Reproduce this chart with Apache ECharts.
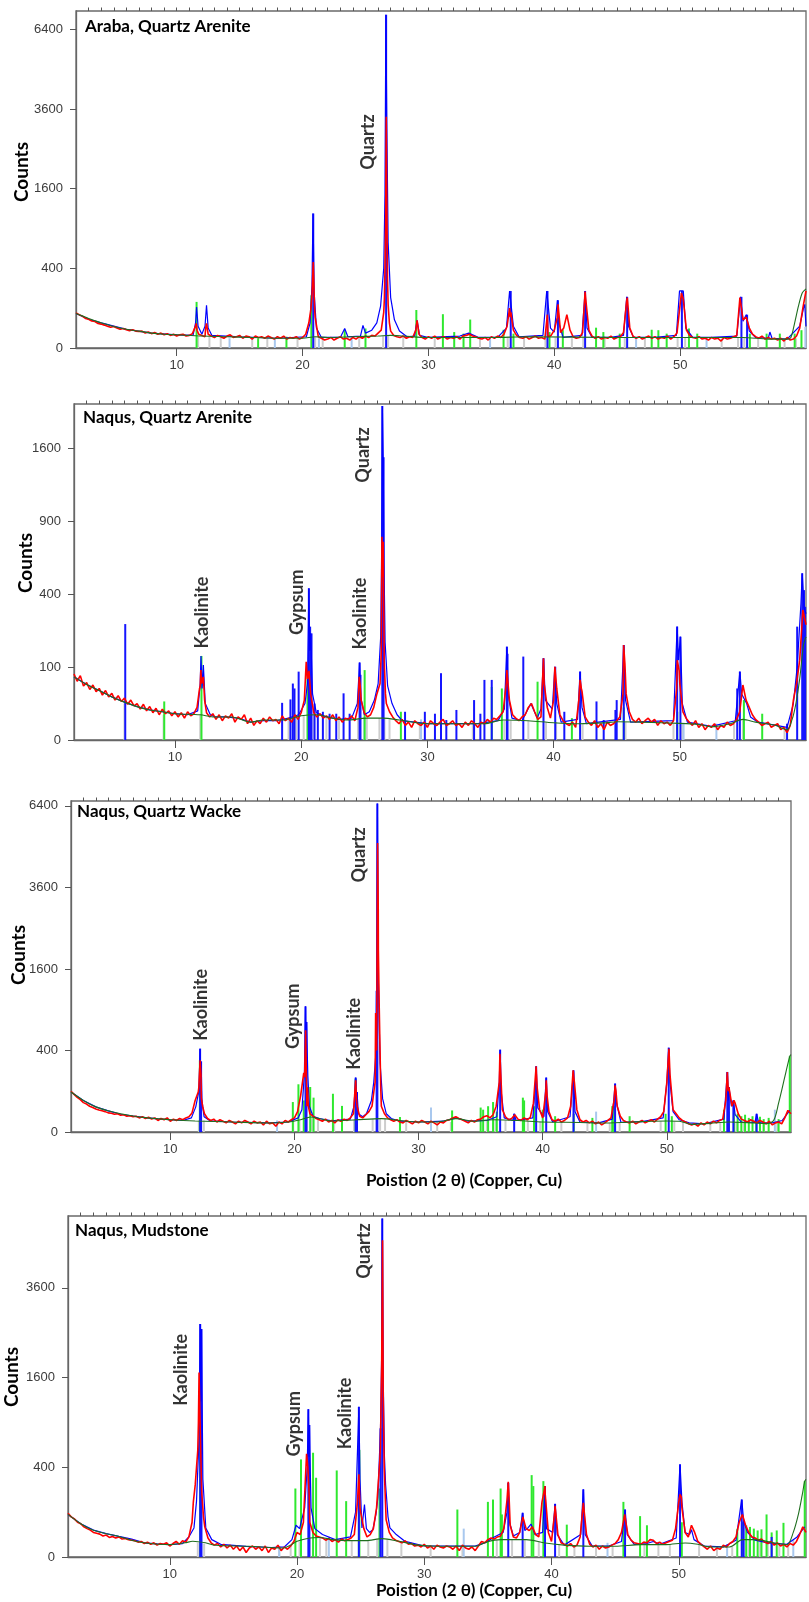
<!DOCTYPE html>
<html>
<head>
<meta charset="utf-8">
<title>XRD patterns</title>
<script src="https://cdn.jsdelivr.net/npm/echarts@6/dist/echarts.min.js"></script>
<style>
html, body { margin: 0; padding: 0; background: #fff; }
#chart { width: 809px; height: 1602px; }
</style>
</head>
<body>
<div id="chart"></div>
<script>
// observed scans are sampled every 0.25 deg from 2 deg, peak tops are extra [2theta, counts] points
var obsStart = 2, obsStep = 0.25;
var xTicks = [10, 20, 30, 40, 50];

// ---- Araba, Quartz Arenite
var obsA = [
    78, 70, 64, 55, 52, 46, 44, 38, 36, 33, 30, 27, 29, 25, 22, 24, 21, 19, 21, 18,
    17, 18, 14, 16, 13, 15, 12, 14, 11, 13, 10, 12, 9, 11, 12, 9, 10, 13, 14, 12,
    10, 8, 12, 9, 7, 10, 8, 6, 9, 11, 7, 8, 10, 6, 9, 8, 5, 9, 7, 8,
    6, 9, 7, 5, 8, 6, 9, 5, 7, 6, 8, 5, 7, 12, 40, 175, 60, 8, 6, 4,
    5, 7, 4, 6, 8, 5, 6, 4, 7, 5, 8, 6, 9, 7, 10, 9, 14, 20, 150, 300,
    18, 10, 8, 7, 9, 6, 8, 7, 20, 12, 7, 5, 8, 6, 9, 5, 7, 8, 5, 7,
    6, 8, 5, 9, 10, 12, 9, 8, 6, 5, 7, 4, 8, 6, 9, 7, 12, 30, 60, 20,
    10, 7, 6, 8, 5, 7, 9, 6, 7, 5, 8, 10, 20, 60, 15, 25, 70, 20, 8, 6,
    7, 15, 150, 20, 9, 6, 8, 5, 7, 6, 9, 5, 7, 8, 15, 140, 25, 9, 6, 8,
    5, 7, 9, 6, 8, 5, 7, 6, 9, 5, 8, 14, 120, 150, 20, 10, 7, 6, 8, 5,
    6, 4, 7, 5, 6, 3, 7, 5, 6, 8, 10, 160, 50, 60, 25, 12, 8, 6, 9, 5,
    7, 5, 6, 4, 6, 3, 7, 4, 5, 9, 25, 100, 205
];
var tipsA = [[11.5, 30], [11.55, 38], [11.62, 20], [12.3, 25], [12.37, 38], [12.45, 20],
    [20.65, 90], [20.8, 300], [20.85, 467], [20.9, 250], [20.95, 110],
    [26.45, 80], [26.55, 400], [26.6, 980], [26.65, 3370], [26.7, 1200], [26.8, 120], [26.9, 40],
    [29.1, 48], [36.45, 100], [36.55, 80], [39.45, 70], [40.3, 120], [42.45, 200], [45.8, 160],
    [50.1, 190], [54.85, 165]];
var calcA = [[2, 75], [3, 52], [4, 40], [6, 22], [8, 14], [10, 11], [11.3, 10], [11.5, 40], [11.58, 106], [11.7, 30],
    [12.0, 12], [12.25, 30], [12.37, 115], [12.5, 25], [12.8, 10], [15, 8], [18, 6], [20.3, 8], [20.6, 40],
    [20.75, 250], [20.83, 1140], [20.92, 200], [21.1, 25], [21.5, 7], [23, 7], [23.35, 24], [23.6, 8], [24.6, 9],
    [24.8, 32], [25.0, 14], [25.5, 20], [25.9, 40], [26.2, 110], [26.45, 400], [26.55, 1500], [26.62, 7000],
    [26.7, 3000], [26.8, 700], [27.0, 160], [27.3, 50], [27.7, 18], [28.3, 8], [28.9, 9], [29.1, 48], [29.3, 10],
    [30, 7], [32.5, 9], [33.2, 14], [34, 7], [35.5, 7], [36.2, 25], [36.45, 205], [36.6, 205], [36.75, 30],
    [37.2, 8], [39.1, 10], [39.4, 205], [39.52, 205], [39.7, 25], [40.0, 16], [40.25, 144], [40.4, 35], [40.7, 7],
    [42.2, 10], [42.45, 205], [42.6, 25], [43, 7], [44.5, 7], [45.5, 10], [45.76, 165], [45.9, 30], [46.3, 7],
    [48, 7], [49.7, 10], [49.95, 205], [50.25, 205], [50.45, 25], [51, 7], [52.5, 7], [54.5, 9], [54.8, 165],
    [55.0, 45], [55.25, 70], [55.5, 18], [56, 7], [57.0, 6], [57.13, 16], [57.3, 6], [58.5, 5], [59.5, 30],
    [59.8, 100], [59.9, 120], [60, 30]];
var bgA = [[2, 75], [2.5, 65], [3, 55], [3.5, 47], [4, 40], [5, 29], [6, 22], [7, 18], [8, 14], [9, 12], [10, 11],
    [12, 9], [14, 8], [16, 7], [18, 6], [20, 6], [21, 8], [22, 7], [24, 8], [26, 9], [27, 10], [28, 9], [30, 7],
    [35, 7], [38, 8], [45, 7], [50, 7], [55, 7], [57, 5], [58.5, 5], [58.8, 7], [59.1, 40], [59.4, 110],
    [59.7, 190], [60, 220]];
var greenA = [[11.58, 134], [16.47, 6], [18.72, 8], [20.7, 175], [23.35, 21], [25.0, 24], [29.04, 91], [31.15, 72],
    [32.05, 16], [32.79, 13], [33.32, 51], [35.97, 21], [36.76, 13], [39.62, 16], [40.68, 20], [43.32, 26],
    [43.9, 16], [45.2, 13], [47.74, 21], [48.27, 20], [48.93, 13], [50.7, 24], [51.36, 13], [55.54, 13],
    [56.87, 13], [57.92, 13], [59.1, 13], [59.64, 20]];
var blueA = [[20.85, 1140], [26.64, 7000], [36.54, 205], [39.46, 205], [40.29, 144], [42.45, 205], [45.79, 165],
    [50.14, 205], [54.87, 165], [55.32, 70]];
var greyA = [[11.7, 8], [12.6, 8], [13.5, 7], [16.0, 6], [17.2, 6], [19.6, 6], [21.0, 8], [21.6, 6], [24.5, 7],
    [26.4, 9], [26.8, 9], [28.0, 8], [30.5, 6], [34.1, 6], [36.3, 8], [37.6, 6], [39.3, 7], [40.1, 7], [41.4, 6],
    [42.3, 7], [44.0, 6], [45.6, 7], [47.2, 6], [49.8, 7], [50.4, 7], [53.3, 6], [54.6, 7], [55.1, 7], [56.2, 6],
    [58.3, 5], [59.2, 6]];
var paleA = [[14.2, 6], [17.8, 6], [21.3, 6], [23.9, 7], [34.9, 6], [46.5, 6], [52.1, 6], [59.95, 28]];
var namesA = [['Quartz', 25.2, 2673]];

// ---- Naqus, Quartz Arenite
var obsB = [
    82, 65, 78, 55, 62, 48, 57, 44, 50, 38, 46, 35, 41, 30, 37, 28, 33, 24, 30, 22,
    25, 18, 24, 16, 21, 14, 19, 12, 18, 13, 16, 11, 15, 10, 14, 9, 15, 11, 13, 20,
    55, 40, 14, 10, 13, 8, 12, 7, 11, 9, 13, 6, 10, 8, 12, 5, 9, 4, 7, 5,
    9, 6, 10, 7, 8, 5, 11, 7, 9, 6, 12, 8, 14, 30, 70, 40, 14, 10, 13, 9,
    11, 8, 12, 7, 10, 6, 9, 8, 11, 7, 20, 30, 14, 10, 12, 20, 40, 60, 740, 25,
    15, 10, 7, 5, 8, 4, 6, 3, 7, 5, 4, 6, 3, 7, 5, 4, 6, 8, 4, 5,
    7, 4, 5, 3, 6, 4, 7, 5, 3, 6, 5, 8, 6, 9, 8, 11, 15, 60, 30, 12,
    9, 7, 10, 12, 20, 25, 15, 8, 10, 60, 20, 9, 30, 50, 12, 7, 5, 4, 6, 3,
    30, 45, 10, 6, 4, 7, 3, 5, 2, 6, 4, 5, 7, 10, 40, 40, 15, 8, 6, 9,
    5, 7, 9, 6, 8, 4, 7, 5, 6, 4, 7, 50, 60, 15, 9, 6, 4, 7, 3, 5,
    2, 4, 3, 5, 2, 4, 3, 6, 4, 5, 8, 15, 57, 30, 20, 12, 8, 6, 4, 5,
    6, 3, 4, 5, 2, 3, 1, 4, 30, 60, 120, 318, 250
];
var tipsB = [[11.95, 50], [12.05, 92], [12.12, 60], [12.25, 75], [12.35, 30], [20.4, 115], [20.62, 90],
    [24.6, 75], [24.68, 55], [26.35, 150], [26.4, 778], [26.45, 500], [26.5, 740], [26.58, 120], [26.68, 40],
    [36.3, 92], [39.2, 126], [40.1, 101], [42.1, 68], [42.2, 50], [45.55, 170], [45.65, 110], [49.8, 120],
    [49.95, 90]];
var calcB = [[2, 75], [3, 58], [4, 46], [5, 35], [6, 27], [7, 21], [8, 17], [9, 15], [10, 13], [11, 12], [11.8, 16],
    [12.0, 60], [12.06, 133], [12.15, 50], [12.25, 106], [12.4, 25], [12.8, 12], [13.2, 10], [14, 10], [15, 9],
    [16, 6], [17, 7], [18, 7], [19, 9], [19.8, 12], [20.3, 25], [20.5, 60], [20.61, 433], [20.68, 150],
    [20.75, 214], [20.9, 40], [21.2, 14], [22, 10], [23, 8], [24, 9], [24.45, 25], [24.63, 113], [24.72, 35],
    [25, 12], [25.4, 15], [25.8, 30], [26.1, 60], [26.3, 200], [26.38, 700], [26.43, 2100], [26.5, 1500],
    [26.56, 600], [26.65, 180], [26.85, 55], [27.2, 25], [27.6, 12], [28, 7], [30, 5], [34, 5], [35.6, 7],
    [36.1, 18], [36.3, 164], [36.4, 40], [36.7, 9], [37.5, 7], [38.2, 25], [38.7, 9], [39.0, 18], [39.2, 126],
    [39.35, 30], [39.9, 18], [40.1, 101], [40.25, 25], [40.6, 6], [41.9, 8], [42.1, 88], [42.25, 20], [42.6, 5],
    [45.3, 8], [45.56, 170], [45.7, 30], [46.1, 6], [49.5, 7], [49.79, 242], [49.9, 120], [50.05, 201],
    [50.2, 25], [50.6, 6], [52.5, 3.5], [54.4, 7], [54.76, 88], [54.9, 40], [55.3, 25], [55.6, 10], [56.2, 6],
    [58.5, 3], [59.0, 25], [59.3, 100], [59.6, 350], [59.7, 523], [59.85, 330], [60, 300]];
var bgB = [[2, 75], [3, 58], [4, 46], [5, 35], [6, 27], [7, 21], [8, 17], [9, 15], [10, 13], [12, 12], [13, 10],
    [14.5, 10], [16, 6], [17, 7.5], [18.5, 7.5], [20, 11], [21.2, 12], [22.5, 9], [23.6, 7.5], [25.2, 9],
    [26.5, 9], [27.8, 7.5], [30, 5], [33, 5], [34.5, 5], [36, 7.5], [38, 7], [40, 5.6], [42, 5], [44, 5.5],
    [45, 6.3], [47, 6], [50, 5.2], [51.5, 4.5], [52.5, 3.3], [54, 5], [55, 8], [56, 6], [57.5, 4.2], [58.5, 2],
    [58.9, 8], [59.2, 25], [59.5, 70], [59.8, 170], [60, 200]];
var greenB = [[9.15, 28], [12.1, 133], [20.5, 92], [25.03, 92], [27.9, 15], [35.1, 53], [35.9, 50], [38.73, 64],
    [41.45, 9], [45.56, 20], [49.8, 15], [55.08, 30], [56.53, 13]];
var blueB = [[6.06, 253], [18.49, 26], [19.15, 31], [19.34, 60], [19.47, 50], [19.8, 88], [20.61, 433], [20.71, 242],
    [20.82, 214], [21.06, 25], [21.32, 17], [21.72, 15], [22.25, 13], [22.78, 13], [23.36, 41], [23.84, 13],
    [24.63, 113], [24.7, 80], [26.43, 2100], [26.53, 1504], [28.23, 15], [29.8, 15], [30.6, 13], [31.08, 84],
    [31.5, 7.5], [32.3, 17], [33.7, 30], [34.2, 13], [34.52, 68], [35.1, 68], [36.3, 164], [36.35, 140],
    [37.6, 131], [39.2, 126], [40.13, 101], [40.85, 15], [42.1, 88], [43.4, 28], [43.97, 7.5], [44.9, 17],
    [45.0, 30], [45.56, 170], [49.79, 242], [50.05, 201], [54.55, 50], [54.76, 88], [58.5, 5], [59.3, 242],
    [59.7, 523], [59.84, 423], [59.97, 334]];
var greyB = [[6.0, 25], [9.1, 12], [12.0, 12], [19.0, 9], [19.6, 10], [20.2, 11], [21.0, 12], [22.0, 10], [23.0, 8],
    [24.5, 8], [25.2, 9], [26.2, 9], [26.6, 9], [27.0, 8], [29.4, 5], [33.6, 5], [36.1, 7], [36.6, 7], [38.0, 7],
    [39.4, 6], [40.2, 6], [42.3, 5], [45.7, 6], [49.5, 5], [50.2, 5], [54.3, 5], [55.0, 8], [58.3, 3]];
var paleB = [[25.0, 10], [29.5, 8], [50.3, 5], [52.9, 5]];
var namesB = [['Kaolinite', 12.18, 306], ['Gypsum', 19.67, 357], ['Kaolinite', 24.7, 301], ['Quartz', 24.9, 1529]];

// ---- Naqus, Quartz Wacke
var obsC = [
    100, 85, 72, 63, 52, 47, 40, 36, 32, 29, 27, 25, 22, 21, 19, 20, 17, 18, 15, 16,
    14, 15, 12, 14, 11, 13, 10, 12, 8, 11, 9, 12, 7, 10, 8, 11, 9, 12, 14, 22,
    60, 96, 70, 20, 11, 8, 10, 6, 9, 7, 5, 8, 6, 4, 7, 5, 8, 6, 4, 7,
    5, 6, 3, 7, 4, 5, 2, 6, 4, 8, 6, 9, 12, 25, 80, 210, 40, 20, 15, 11,
    9, 7, 10, 6, 8, 5, 9, 7, 10, 8, 12, 20, 60, 15, 12, 18, 25, 40, 150, 3000,
    40, 20, 12, 9, 7, 9, 6, 5, 8, 6, 4, 7, 5, 8, 6, 4, 7, 5, 3, 6,
    5, 8, 9, 12, 14, 11, 9, 7, 5, 8, 6, 9, 10, 14, 16, 12, 18, 40, 150, 30,
    14, 9, 11, 18, 10, 8, 12, 9, 13, 50, 200, 30, 12, 100, 25, 9, 7, 10, 6, 8,
    12, 40, 180, 30, 9, 6, 8, 5, 7, 4, 6, 3, 5, 8, 12, 60, 40, 15, 8, 6,
    5, 7, 4, 6, 8, 5, 7, 9, 6, 10, 14, 25, 150, 200, 30, 20, 12, 8, 6, 4,
    3, 4, 2, 5, 3, 6, 4, 7, 5, 8, 10, 60, 120, 40, 50, 20, 10, 8, 6, 9,
    7, 5, 8, 6, 4, 7, 3, 5, 6, 4, 12, 28, 20
];
var tipsC = [[12.3, 120], [12.4, 309], [12.47, 200], [12.6, 40], [20.82, 180], [20.9, 623], [21.05, 120],
    [21.12, 40], [24.85, 81], [24.93, 161], [25.05, 40], [26.4, 100], [26.54, 853], [26.62, 400], [26.7, 5030],
    [26.76, 2000], [26.83, 931], [26.95, 120], [36.55, 369], [36.62, 200], [39.47, 260], [39.55, 120],
    [40.28, 161], [40.35, 80], [42.45, 229], [42.55, 150], [45.83, 131], [45.9, 100], [50.1, 300], [50.17, 418],
    [54.87, 217], [54.95, 100], [55.4, 60]];
var calcC = [[2, 96], [3, 60], [4, 38], [5, 27], [6, 19], [7, 15], [8, 12.4], [9, 10.5], [10, 9], [11, 8], [11.7, 12],
    [12.05, 38], [12.3, 100], [12.4, 418], [12.44, 250], [12.48, 300], [12.55, 60], [12.72, 14], [13.2, 7.5],
    [15, 6], [18, 5], [19.5, 6], [20.3, 12], [20.6, 30], [20.8, 200], [20.89, 950], [20.93, 400], [20.97, 729],
    [21.08, 187], [21.2, 40], [21.5, 15], [22, 11], [23, 7.5], [24.5, 10], [24.8, 40], [24.93, 178], [24.98, 80],
    [25.04, 96], [25.15, 20], [25.5, 14], [25.8, 20], [26.2, 60], [26.39, 150], [26.55, 354], [26.62, 1200],
    [26.68, 6495], [26.75, 1500], [26.83, 700], [26.9, 282], [27.1, 67], [27.4, 20], [27.8, 11], [28.5, 7],
    [30, 6], [32, 7], [33, 12], [34, 7], [35.5, 8], [36.3, 14], [36.5, 150], [36.57, 408], [36.65, 100],
    [36.9, 12], [37.6, 8], [37.7, 20], [37.85, 8], [39.2, 12], [39.4, 120], [39.47, 260], [39.6, 35],
    [40.1, 14], [40.28, 178], [40.4, 25], [40.8, 6], [42.2, 14], [42.48, 229], [42.6, 25], [43, 6], [44.5, 5],
    [45.6, 10], [45.83, 141], [45.95, 50], [46.3, 5.5], [48, 6.5], [49.7, 12], [50.0, 150], [50.15, 428],
    [50.25, 150], [50.5, 25], [51, 9], [51.8, 5], [53, 4], [54.6, 10], [54.87, 217], [54.95, 60], [55.0, 122],
    [55.2, 40], [55.36, 60], [55.5, 18], [56, 6], [57.1, 5.5], [57.23, 20], [57.4, 5], [58.5, 5], [59.3, 8],
    [59.9, 28]];
var bgC = [[2, 96], [3, 60], [4, 38], [5, 27], [6, 20], [7, 15.5], [8, 12.4], [9, 10.5], [10, 9], [12, 7.3], [15, 6],
    [18, 4.9], [19.5, 6], [20.5, 9], [21.3, 13.5], [22, 11], [23, 7.3], [25, 9], [27, 10.7], [28.5, 8], [30, 6],
    [31.5, 6], [33, 10.7], [34.5, 7], [36, 9], [38, 8], [40, 6], [43, 5.5], [45, 4.9], [48, 6.5], [50, 7.3],
    [51, 7], [52, 3.5], [53.5, 4.5], [55, 6], [57, 4.9], [58, 4.2], [58.6, 8], [59.0, 50], [59.25, 104],
    [59.6, 220], [59.9, 345], [60, 360]];
var greenC = [[12.38, 309], [19.87, 54], [20.32, 137], [20.75, 60], [21.27, 122], [21.54, 71], [23.1, 88],
    [23.83, 41], [24.93, 171], [26.65, 30], [28.5, 13.5], [32.7, 28], [35.0, 36], [35.2, 30], [35.6, 40],
    [36.0, 54], [36.3, 25], [38.4, 71], [38.5, 60], [39.3, 40], [40.0, 30], [41.0, 15], [42.5, 20], [44.0, 12],
    [45.6, 40], [45.75, 40], [47.0, 15], [49.9, 20], [50.4, 15], [54.6, 30], [55.0, 25], [55.4, 35], [55.7, 20],
    [56.0, 15], [56.3, 18], [56.6, 12], [56.9, 15], [57.2, 10], [57.5, 14], [57.8, 10], [58.2, 12], [59.0, 10],
    [59.9, 345]];
var blueC = [[12.4, 418], [12.48, 300], [20.89, 950], [20.97, 729], [24.93, 178], [25.04, 96], [26.62, 1200],
    [26.68, 6495], [36.57, 408], [37.7, 20], [39.47, 260], [40.28, 178], [42.48, 229], [45.83, 141],
    [50.15, 428], [54.87, 217], [55.0, 122], [55.36, 60], [57.23, 20]];
var greyC = [[12.3, 8], [12.7, 8], [19.9, 7], [20.4, 8], [21.0, 12], [21.4, 13], [21.9, 12], [23.2, 8], [24.8, 9],
    [26.3, 10], [26.9, 11], [27.3, 11], [29.0, 7], [31.5, 6], [32.6, 6], [35.5, 9], [36.2, 9], [37.0, 8],
    [38.8, 8], [39.8, 7], [41.5, 6], [43.6, 5], [45.4, 5], [46.2, 5], [49.5, 7], [50.6, 7], [51.3, 6],
    [53.5, 5], [54.3, 6], [55.6, 6], [56.2, 5], [57.8, 5], [58.9, 5]];
var paleC = [[18.6, 8], [31.0, 36], [44.3, 25], [58.7, 30]];
var namesC = [['Kaolinite', 12.5, 973], ['Gypsum', 19.9, 807], ['Kaolinite', 24.8, 581], ['Quartz', 25.2, 4624]];

// ---- Naqus, Mudstone
var obsD = [
    95, 80, 72, 60, 55, 45, 40, 36, 30, 28, 26, 22, 24, 19, 21, 18, 20, 16, 17, 15,
    14, 13, 11, 12, 9, 11, 8, 10, 7, 9, 8, 10, 6, 9, 12, 8, 13, 11, 20, 60,
    260, 900, 230, 45, 18, 10, 7, 9, 5, 8, 4, 7, 3, 6, 2, 5, 1, 4, 6, 3,
    5, 2, 6, 1, 4, 3, 7, 2, 5, 3, 6, 12, 30, 25, 60, 530, 60, 30, 22, 20,
    18, 14, 17, 12, 15, 11, 16, 13, 15, 18, 25, 150, 100, 40, 20, 25, 40, 120, 450, 2500,
    70, 30, 18, 14, 12, 10, 13, 8, 9, 6, 7, 5, 8, 4, 6, 3, 7, 5, 4, 6,
    5, 3, 6, 2, 7, 4, 3, 5, 2, 6, 12, 10, 15, 18, 16, 20, 22, 40, 160, 50,
    20, 18, 30, 80, 40, 35, 45, 25, 20, 150, 200, 30, 12, 100, 25, 10, 8, 6, 9, 5,
    7, 20, 146, 25, 8, 5, 7, 3, 6, 4, 5, 7, 9, 15, 30, 90, 25, 14, 10, 9,
    8, 11, 10, 15, 14, 9, 11, 8, 10, 12, 14, 40, 150, 120, 30, 20, 45, 30, 12, 8,
    5, 3, 6, 2, 4, 3, 7, 5, 9, 12, 20, 60, 90, 50, 30, 20, 18, 14, 16, 11,
    9, 12, 7, 10, 6, 8, 5, 9, 7, 12, 25, 45, 30
];
var tipsD = [[11.85, 150], [12.1, 400], [12.2, 565], [12.3, 1690], [12.38, 900], [12.52, 194], [12.65, 80],
    [20.85, 400], [20.95, 200], [24.86, 339], [24.95, 120], [26.45, 367], [26.55, 600], [26.65, 1800],
    [26.72, 4984], [26.77, 1344], [26.85, 400], [36.6, 281], [36.68, 150], [39.49, 250], [40.28, 130],
    [50.1, 194], [50.2, 180], [51.0, 50]];
var calcD = [[2, 90], [3, 55], [4, 36], [5, 27], [6, 21], [7, 16], [8, 10], [9, 8.5], [10, 7.6], [11, 9], [11.5, 20],
    [11.9, 42], [12.1, 155], [12.3, 700], [12.39, 2697], [12.44, 1200], [12.49, 2582], [12.6, 300], [12.83, 42],
    [13.3, 15], [14, 8], [16, 5.7], [18, 4.5], [19, 5], [19.6, 15], [19.92, 50], [20.2, 40], [20.6, 120],
    [20.8, 400], [20.89, 1085], [20.93, 500], [20.97, 866], [21.1, 120], [21.4, 40], [22, 25], [23, 15],
    [24.2, 20], [24.6, 100], [24.86, 1120], [24.95, 300], [25.1, 42], [25.3, 137], [25.45, 40], [25.7, 30],
    [25.96, 37], [26.2, 90], [26.35, 174], [26.56, 823], [26.65, 2000], [26.7, 5688], [26.78, 1500],
    [26.87, 500], [26.96, 261], [27.15, 80], [27.3, 42], [27.8, 25], [28.5, 12], [30, 6], [34, 6], [34.9, 11],
    [35.5, 20], [36.2, 30], [36.5, 100], [36.6, 273], [36.7, 60], [37.0, 22], [37.5, 30], [37.73, 97],
    [37.9, 35], [38.1, 40], [38.39, 54], [38.7, 25], [39.3, 30], [39.49, 250], [39.6, 40], [40.1, 30],
    [40.28, 140], [40.45, 25], [41, 7], [42.3, 25], [42.5, 227], [42.65, 25], [43.2, 6], [44.5, 6], [45.5, 12],
    [45.78, 112], [45.95, 25], [46.5, 8], [47.5, 9], [48.0, 12], [48.5, 8], [49.8, 18], [50.1, 426],
    [50.25, 150], [50.5, 30], [50.85, 25], [51.0, 37], [51.2, 15], [52, 6], [53.5, 5], [54.5, 14], [54.85, 120],
    [54.95, 164], [55.1, 64], [55.4, 30], [56, 14], [57, 10], [58.5, 8], [59.3, 20], [59.9, 45]];
var bgD = [[2, 90], [3, 55], [3.9, 37], [5, 27], [6, 21], [7, 14], [8.1, 9.8], [10, 7.6], [11.2, 10], [11.8, 12.3],
    [12.8, 10], [13.6, 6.8], [16.2, 5.7], [18.9, 4], [19.5, 7], [20, 12.3], [21, 18], [21.8, 19], [22.8, 15],
    [24.1, 13.3], [25.4, 13.3], [26.7, 16.8], [28, 12.3], [29.5, 7], [31, 5.7], [34, 5.7], [34.9, 11.2],
    [36, 15], [38, 15], [39.5, 9.8], [41, 7], [43, 5.7], [45, 5.7], [47, 7.6], [49, 7.6], [50.5, 9.8],
    [51.5, 8], [52.5, 5], [54, 5], [55, 15], [56, 15], [57.5, 9.8], [58.5, 7.6], [59.0, 30], [59.4, 90],
    [59.7, 190], [59.9, 286], [60, 300]];
var greenD = [[12.39, 1371], [19.87, 233], [20.31, 473], [21.26, 540], [21.5, 312], [23.12, 372], [23.86, 155],
    [24.86, 728], [24.9, 570], [26.48, 233], [32.6, 112], [35.0, 151], [35.4, 164], [36.0, 233], [36.1, 90],
    [38.44, 333], [38.57, 250], [39.36, 286], [41.2, 52], [45.65, 151], [46.96, 83], [47.5, 50], [50.24, 60],
    [54.6, 40], [55.0, 60], [55.3, 50], [55.6, 45], [55.9, 40], [56.2, 35], [56.5, 38], [56.9, 90], [57.3, 30],
    [57.7, 35], [58.23, 58], [59.9, 286]];
var blueD = [[12.39, 2697], [12.49, 2582], [20.89, 1085], [20.97, 866], [24.86, 1120], [26.56, 823], [26.7, 5688],
    [36.6, 273], [37.73, 97], [39.49, 250], [40.28, 140], [42.5, 227], [45.78, 112], [50.1, 426], [54.95, 164],
    [55.1, 64], [57.3, 20]];
var greyD = [[12.2, 10], [12.7, 9], [18.6, 6], [19.5, 8], [20.2, 12], [21.0, 18], [21.8, 19], [22.3, 17], [24.3, 13],
    [25.6, 13], [26.3, 16], [27.1, 16], [28.2, 12], [30.5, 6], [33.0, 6], [35.7, 14], [36.9, 15], [37.9, 15],
    [39.0, 12], [40.6, 8], [41.8, 7], [43.5, 6], [44.8, 6], [47.3, 7], [48.4, 7], [49.3, 8], [51.6, 8],
    [53.0, 5], [54.2, 6], [55.5, 15], [56.4, 14], [57.0, 12], [57.9, 10], [58.6, 8]];
var paleD = [[18.6, 6], [22.5, 20], [33.1, 40], [44.4, 10], [53.8, 8], [59.0, 15]];
var namesD = [['Kaolinite', 10.9, 1739], ['Gypsum', 19.75, 882], ['Kaolinite', 23.75, 1024], ['Quartz', 25.27, 4651]];

// y tick values (counts) per panel
var yTicksA = [0, 400, 1600, 3600, 6400];
var yTicksB = [0, 100, 400, 900, 1600];
var yTicksC = [0, 400, 1600, 3600, 6400];
var yTicksD = [0, 400, 1600, 3600];

var panels = [
    { title: 'Araba, Quartz Arenite', obs: obsA, tips: tipsA, calc: calcA, bg: bgA, green: greenA, blue: blueA,
      grey: greyA, pale: paleA, names: namesA, yTicks: yTicksA, yMax: 84.6,
      grid: { left: 76, top: 11, width: 730, height: 337 }, titlePos: [85, 18], countsPos: [22, 172] },
    { title: 'Naqus, Quartz Arenite', obs: obsB, tips: tipsB, calc: calcB, bg: bgB, green: greenB, blue: blueB,
      grey: greyB, pale: paleB, names: namesB, yTicks: yTicksB, yMax: 46.1,
      grid: { left: 74, top: 404, width: 732, height: 336 }, titlePos: [83, 409], countsPos: [26, 563] },
    { title: 'Naqus, Quartz Wacke', obs: obsC, tips: tipsC, calc: calcC, bg: bgC, green: greenC, blue: blueC,
      grey: greyC, pale: paleC, names: namesC, yTicks: yTicksC, yMax: 81.2,
      grid: { left: 71, top: 801, width: 720, height: 331 }, titlePos: [77, 803], countsPos: [19, 955],
      xName: [464, 1181] },
    { title: 'Naqus, Mudstone', obs: obsD, tips: tipsD, calc: calcD, bg: bgD, green: greenD, blue: blueD,
      grey: greyD, pale: paleD, names: namesD, yTicks: yTicksD, yMax: 76,
      grid: { left: 68, top: 1216, width: 738, height: 341 }, titlePos: [75, 1222], countsPos: [12, 1377],
      xName: [474, 1591] }
];

var sq = function (v) { return Math.sqrt(Math.max(v, 0)); };
function toXY(arr) {
    return arr.map(function (p) { return [p[0], sq(p[1])]; });
}
function buildObs(grid, tips) {
    var map = {};
    grid.forEach(function (v, i) { map[(obsStart + i * obsStep).toFixed(2)] = v; });
    tips.forEach(function (p) { map[p[0].toFixed(2)] = p[1]; });
    return Object.keys(map).map(Number).sort(function (a, b) { return a - b; })
        .map(function (x) { return [x, sq(map[x.toFixed(2)])]; });
}

var minorTicks = [];
for (var t = 3; t < 60; t++) minorTicks.push(t);

var labelFont = 'Lato';
var tickFont = 'Liberation Sans';

var grids = [], xAxes = [], yAxes = [], series = [], graphics = [];

panels.forEach(function (p, k) {
    grids.push({ left: p.grid.left, top: p.grid.top, width: p.grid.width, height: p.grid.height,
        show: true, borderColor: '#6a6a6a', borderWidth: 1.3, backgroundColor: '#fff' });

    xAxes.push({
        gridIndex: k, type: 'value', min: 2, max: 60,
        axisLine: { show: true, onZero: false, lineStyle: { color: '#666', width: 1.3 } },
        axisTick: { show: true, customValues: xTicks, length: 8, lineStyle: { color: '#555' } },
        axisLabel: { customValues: xTicks, margin: 11, fontFamily: tickFont, fontSize: 13, color: '#3c3c3c' },
        splitLine: { show: false }
    });
    xAxes.push({
        gridIndex: k, type: 'value', min: 2, max: 60,
        axisLine: { show: false, onZero: false },
        axisTick: { show: true, customValues: minorTicks, length: 3.5, lineStyle: { color: '#555' } },
        axisLabel: { show: false },
        splitLine: { show: false }
    });
    var yt = p.yTicks.map(sq);
    yAxes.push({
        gridIndex: k, type: 'value', min: 0, max: p.yMax,
        axisLine: { show: true, lineStyle: { color: '#666', width: 1.3 } },
        axisTick: { show: true, customValues: yt, length: 6, lineStyle: { color: '#555' } },
        axisLabel: { customValues: yt, margin: 13, fontFamily: tickFont, fontSize: 13, color: '#3c3c3c',
            formatter: function (v) { return String(Math.round(v * v)); } },
        splitLine: { show: false }
    });

    var xi = 2 * k, yi = k;
    var stick = function (data, color, z) {
        return { type: 'bar', xAxisIndex: xi, yAxisIndex: yi, data: toXY(data), barWidth: 2, barGap: '-100%',
            itemStyle: { color: color }, z: z, silent: true };
    };
    series.push(stick(p.grey, '#cdcdcd', 1));
    series.push(stick(p.pale, '#a9c8ee', 1));
    series.push(stick(p.green, '#2fe82f', 2));
    series.push(stick(p.blue, '#1515ff', 3));
    series.push({ type: 'line', xAxisIndex: xi, yAxisIndex: yi, data: toXY(p.calc), showSymbol: false,
        lineStyle: { color: '#0000ff', width: 1.2 }, z: 4, silent: true });
    series.push({ type: 'line', xAxisIndex: xi, yAxisIndex: yi, data: buildObs(p.obs, p.tips), showSymbol: false,
        lineStyle: { color: '#ff0000', width: 1.6 }, z: 5, silent: true });
    series.push({ type: 'line', xAxisIndex: xi, yAxisIndex: yi, data: toXY(p.bg), showSymbol: false, smooth: 0.3,
        lineStyle: { color: '#1f6e1f', width: 1.1 }, z: 6, silent: true });
    series.push({ type: 'scatter', xAxisIndex: xi, yAxisIndex: yi, symbolSize: 1, silent: true, z: 10,
        itemStyle: { color: 'rgba(0,0,0,0)' },
        data: p.names.map(function (n) { return { name: n[0], value: [n[1], sq(n[2])] }; }),
        label: { show: true, position: 'inside', rotate: 90, formatter: '{b}', fontFamily: labelFont,
            fontSize: 18, fontWeight: 'bold', color: '#000' } });

    graphics.push({ type: 'text', x: p.titlePos[0], y: p.titlePos[1], z: 20,
        style: { text: p.title, font: 'bold 17px ' + labelFont, fill: '#000', align: 'left', verticalAlign: 'top' } });
    graphics.push({ type: 'text', x: p.countsPos[0], y: p.countsPos[1], rotation: Math.PI / 2, z: 20,
        style: { text: 'Counts', font: 'bold 19px ' + labelFont, fill: '#000', align: 'center', verticalAlign: 'middle' } });
    if (p.xName) {
        graphics.push({ type: 'text', x: p.xName[0], y: p.xName[1], z: 20,
            style: { text: 'Poistion (2 \u03b8) (Copper, Cu)', font: 'bold 17px ' + labelFont, fill: '#000',
                align: 'center', verticalAlign: 'middle' } });
    }
});

var chart = echarts.init(document.getElementById('chart'));
chart.setOption({
    animation: false,
    backgroundColor: '#fff',
    grid: grids,
    xAxis: xAxes,
    yAxis: yAxes,
    series: series,
    graphic: graphics
});
</script>
</body>
</html>
